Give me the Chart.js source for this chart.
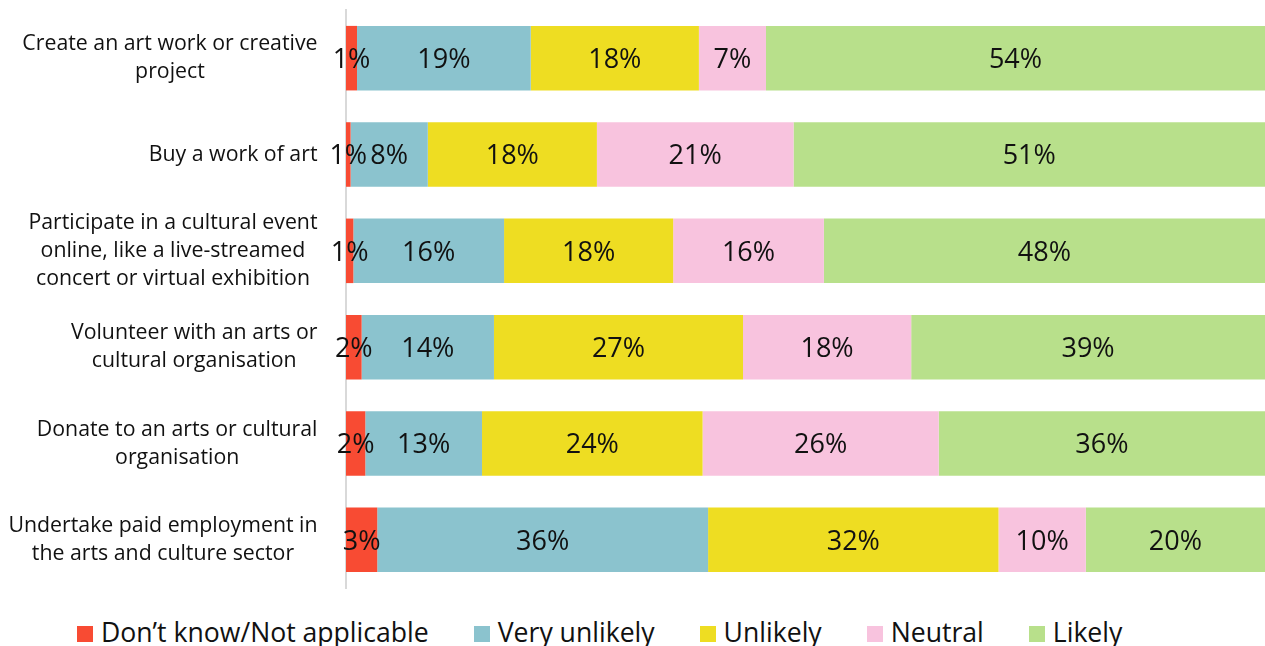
<!DOCTYPE html>
<html>
<head>
<meta charset="utf-8">
<script src="https://cdn.jsdelivr.net/npm/chart.js@4"></script>
<style>
  html, body { margin: 0; padding: 0; background: #fff; overflow: hidden; }
  #wrap { position: relative; width: 1265px; height: 600px; }
  #legend {
    position: absolute; left: 0; top: 617px; height: 30px;
    display: flex; align-items: center; white-space: nowrap;
    font-family: "Open Sans", sans-serif; font-size: 26.6px; line-height: 30px; color: #111;
  }
  #legend .item { display: flex; align-items: center; }
  #legend .box { width: 16px; height: 16px; margin-right: 8px; margin-top: 3px; }
</style>
</head>
<body>
<div id="wrap"><canvas id="chart"></canvas></div>
<div id="legend"></div>
<script>
// Categorias (linhas do eixo Y)
const categories = [
  ["Create an art work or creative", "project"],
  ["Buy a work of art"],
  ["Participate in a cultural event", "online, like a live-streamed", "concert or virtual exhibition"],
  ["Volunteer with an arts or", "cultural organisation"],
  ["Donate to an arts or cultural", "organisation"],
  ["Undertake paid employment in", "the arts and culture sector"]
];

const seriesNames = ["Don\u2019t know/Not applicable", "Very unlikely", "Unlikely", "Neutral", "Likely"];

const dontKnow     = [1.2, 0.5, 0.8, 1.7, 2.1, 3.4];
const veryUnlikely = [18.9, 8.4, 16.4, 14.4, 12.7, 36.0];
const unlikely     = [18.3, 18.4, 18.4, 27.1, 24.0, 31.6];
const neutral      = [7.3, 21.4, 16.4, 18.3, 25.7, 9.5];
const likely       = [54.3, 51.3, 48.0, 38.5, 35.5, 19.5];

const colors = ["#F84B33", "#8BC3CE", "#EEDD22", "#F8C3DE", "#B8E08B"];
const seriesValues = [dontKnow, veryUnlikely, unlikely, neutral, likely];

// Etiquetas de valor dentro das barras
const valueLabels = {
  id: "valueLabels",
  afterDatasetsDraw(chart) {
    const ctx = chart.ctx;
    ctx.save();
    ctx.font = "27px 'Open Sans'";
    ctx.fillStyle = "#111";
    ctx.textAlign = "center";
    ctx.textBaseline = "middle";
    chart.data.datasets.forEach(function (ds, i) {
      chart.getDatasetMeta(i).data.forEach(function (bar, j) {
        const txt = Math.round(ds.data[j]) + "%";
        ctx.fillText(txt, (bar.x + bar.base) / 2, bar.y + 2);
      });
    });
    ctx.restore();
  }
};

// R칩tulos do eixo Y: bloco alinhado  direita, linhas centradas
const categoryLabels = {
  id: "categoryLabels",
  afterDraw(chart) {
    const ctx = chart.ctx;
    const scale = chart.scales.y;
    const lineH = 28;
    const rightEdge = scale.right - 28.5;
    ctx.save();
    ctx.font = "21.3px 'Open Sans'";
    ctx.fillStyle = "#111";
    ctx.textAlign = "center";
    ctx.textBaseline = "middle";
    categories.forEach(function (lines, i) {
      const yc = scale.getPixelForTick(i);
      const w = Math.max.apply(null, lines.map(function (l) { return ctx.measureText(l).width; }));
      const xc = rightEdge - w / 2;
      const y0 = yc - (lines.length - 1) * lineH / 2;
      lines.forEach(function (l, k) {
        ctx.fillText(l, xc, y0 + k * lineH);
      });
    });
    ctx.restore();
  }
};

const chart = new Chart(document.getElementById("chart"), {
  type: "bar",
  data: {
    labels: categories,
    datasets: seriesNames.map(function (name, i) {
      return {
        label: name,
        data: seriesValues[i],
        backgroundColor: colors[i],
        borderWidth: 0,
        barPercentage: 0.67,
        categoryPercentage: 1
      };
    })
  },
  options: {
    indexAxis: "y",
    responsive: true,
    maintainAspectRatio: false,
    animation: false,
    layout: { padding: { top: 10, bottom: 12, left: 0, right: 0 } },
    plugins: {
      legend: { display: false },
      tooltip: { enabled: false }
    },
    scales: {
      x: { stacked: true, min: 0, max: 100, display: false },
      y: {
        stacked: true,
        grid: { display: false },
        border: { display: true, color: "#d9d9d9", width: 2 },
        ticks: { display: false },
        afterFit: function (axis) { axis.width = 346; }
      }
    }
  },
  plugins: [valueLabels, categoryLabels]
});

// Legenda em HTML
const legend = document.getElementById("legend");
legend.style.paddingLeft = "77px";
seriesNames.forEach(function (name, i) {
  const item = document.createElement("div");
  item.className = "item";
  item.style.marginRight = (i < seriesNames.length - 1 ? 45 : 0) + "px";
  item.innerHTML = '<span class="box" style="background:' + colors[i] + '"></span><span>' + name + '</span>';
  legend.appendChild(item);
});
</script>
</body>
</html>
